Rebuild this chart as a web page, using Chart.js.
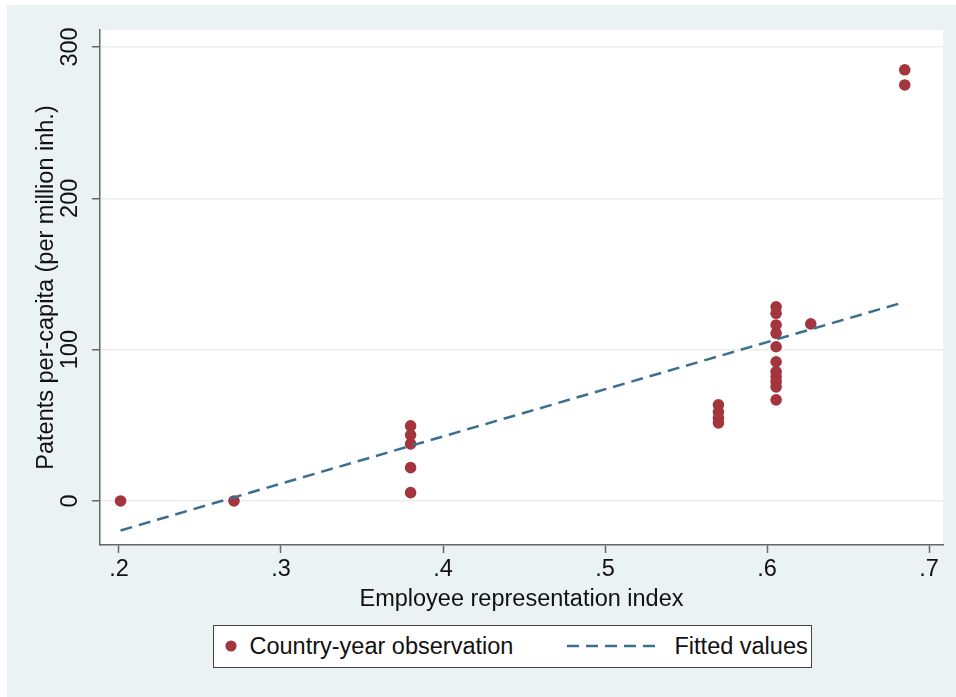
<!DOCTYPE html>
<html>
<head>
<meta charset="utf-8">
<script src="https://cdn.jsdelivr.net/npm/chart.js@4"></script>
<style>
  html, body { margin: 0; padding: 0; background: #ffffff; width: 956px; height: 697px; overflow: hidden; }
  #panel { position: absolute; left: 7px; top: 5px; width: 949px; height: 692px; background: #eaf2f3; }
  #c { position: absolute; left: 0; top: 0; }
  #legend { position: absolute; left: 213px; top: 625px; width: 599px; height: 43px; box-sizing: border-box;
            border: 1.5px solid #444; background: #ffffff; font-family: "Liberation Sans", Arial, sans-serif;
            font-size: 23.5px; color: #111; }
  #legend .item { position: absolute; top: 0; height: 40px; line-height: 40px; white-space: nowrap; }
  #legend svg { position: absolute; }
</style>
</head>
<body>
<div id="panel"><canvas id="c" width="949" height="692"></canvas></div>
<div id="legend"></div>
<script>
// ---- data ----
const obsX = [0.201, 0.271,
  0.38, 0.38, 0.38, 0.38, 0.38,
  0.57, 0.57, 0.57, 0.57,
  0.6056, 0.6056, 0.6056, 0.6056, 0.6056, 0.6056, 0.6056, 0.6056, 0.6056, 0.6056, 0.6056,
  0.627, 0.685, 0.685];
const obsY = [0, 0,
  49.6, 43.6, 37.7, 22, 5.5,
  63.5, 58.8, 54.9, 51.6,
  128.3, 124, 116.3, 110.8, 101.9, 92, 85.4, 82.1, 78.8, 75.4, 66.8,
  117, 284.9, 274.9];
const fitX = [0.201, 0.271, 0.38, 0.57, 0.6056, 0.627, 0.685];
const fitY = [-19.5, 2.4, 36.4, 95.6, 106.7, 113.4, 131.5];
const xTicks = [0.2, 0.3, 0.4, 0.5, 0.6, 0.7];
const xTickLabels = ['.2', '.3', '.4', '.5', '.6', '.7'];
const yTicks = [0, 100, 200, 300];
const yTickLabels = ['0', '100', '200', '300'];
const seriesLabels = ['Country-year observation', 'Fitted values'];

const FONT = '"Liberation Sans", Arial, sans-serif';
const FS = 23.5;
const DOT = '#a3353e';
const LINE = '#3b6f8f';

const plotBg = {
  id: 'plotBg',
  beforeDraw(chart) {
    const a = chart.chartArea, ctx = chart.ctx;
    ctx.save(); ctx.fillStyle = '#ffffff';
    ctx.fillRect(a.left, a.top, a.right - a.left, a.bottom - a.top);
    ctx.restore();
  }
};

const chart = new Chart(document.getElementById('c'), {
  type: 'scatter',
  data: {
    datasets: [
      { label: seriesLabels[0], data: obsX.map((x, i) => ({ x, y: obsY[i] })),
        backgroundColor: DOT, borderWidth: 0, pointRadius: 5.8, order: 1 },
      { label: seriesLabels[1], type: 'line', data: fitX.map((x, i) => ({ x, y: fitY[i] })),
        borderColor: LINE, borderWidth: 2.5, borderDash: [12, 7], pointRadius: 0, fill: false, order: 0 }
    ]
  },
  options: {
    responsive: false, animation: false, devicePixelRatio: 1,
    layout: { padding: { top: 25, right: 13, left: 0, bottom: 72 } },
    plugins: { legend: { display: false }, tooltip: { enabled: false } },
    scales: {
      x: {
        type: 'linear', min: 0.1883, max: 0.7086,
        afterBuildTicks: s => { s.ticks = xTicks.map(v => ({ value: v })); },
        afterFit: s => { s.height = 80; },
        ticks: { callback: (v, i) => xTickLabels[i], font: { family: FONT, size: FS }, color: '#111',
                 padding: 2, maxRotation: 0, autoSkip: false },
        grid: { drawOnChartArea: false, tickLength: 8, tickColor: '#666', tickWidth: 1.5 },
        border: { color: '#666', width: 1.5 },
        title: { display: true, text: 'Employee representation index', font: { family: FONT, size: FS },
                 color: '#111', padding: { top: 0, bottom: 11 } }
      },
      y: {
        type: 'linear', min: -29.1, max: 311.2,
        afterBuildTicks: s => { s.ticks = yTicks.map(v => ({ value: v })); },
        afterFit: s => { s.width = 93; },
        ticks: { callback: (v, i) => yTickLabels[i], font: { family: FONT, size: FS }, color: '#111',
                 minRotation: 90, maxRotation: 90, crossAlign: 'center', padding: 1.5, autoSkip: false },
        grid: { color: '#ececec', lineWidth: 1.5, tickLength: 8, tickColor: '#666', tickWidth: 1.5 },
        border: { color: '#666', width: 1.5 },
        title: { display: true, text: 'Patents per-capita (per million inh.)', font: { family: FONT, size: FS },
                 color: '#111', padding: { top: 25, bottom: 0 } }
      }
    }
  },
  plugins: [plotBg]
});

// ---- legend (HTML, built from the chart's datasets) ----
(function () {
  const lg = document.getElementById('legend');
  const ds = chart.data.datasets;
  const ns = 'http://www.w3.org/2000/svg';
  // item 1: dot marker
  const s1 = document.createElementNS(ns, 'svg');
  s1.setAttribute('width', 14); s1.setAttribute('height', 14);
  s1.style.left = (231 - 213 - 1.5 - 7) + 'px'; s1.style.top = (20 - 7) + 'px';
  const c = document.createElementNS(ns, 'circle');
  c.setAttribute('cx', 7); c.setAttribute('cy', 7); c.setAttribute('r', 5.6); c.setAttribute('fill', ds[0].backgroundColor);
  s1.appendChild(c); lg.appendChild(s1);
  const t1 = document.createElement('div'); t1.className = 'item'; t1.textContent = ds[0].label;
  t1.style.left = (250 - 213 - 1.5) + 'px'; lg.appendChild(t1);
  // item 2: dashed line
  const s2 = document.createElementNS(ns, 'svg');
  s2.setAttribute('width', 94); s2.setAttribute('height', 6);
  s2.style.left = (567 - 213 - 1.5) + 'px'; s2.style.top = (20 - 3) + 'px';
  const l = document.createElementNS(ns, 'line');
  l.setAttribute('x1', 0); l.setAttribute('y1', 3); l.setAttribute('x2', 92); l.setAttribute('y2', 3);
  l.setAttribute('stroke', ds[1].borderColor); l.setAttribute('stroke-width', 2.5); l.setAttribute('stroke-dasharray', '12 7');
  s2.appendChild(l); lg.appendChild(s2);
  const t2 = document.createElement('div'); t2.className = 'item'; t2.textContent = ds[1].label;
  t2.style.left = (675 - 213 - 1.5) + 'px'; lg.appendChild(t2);
})();
</script>
</body>
</html>
